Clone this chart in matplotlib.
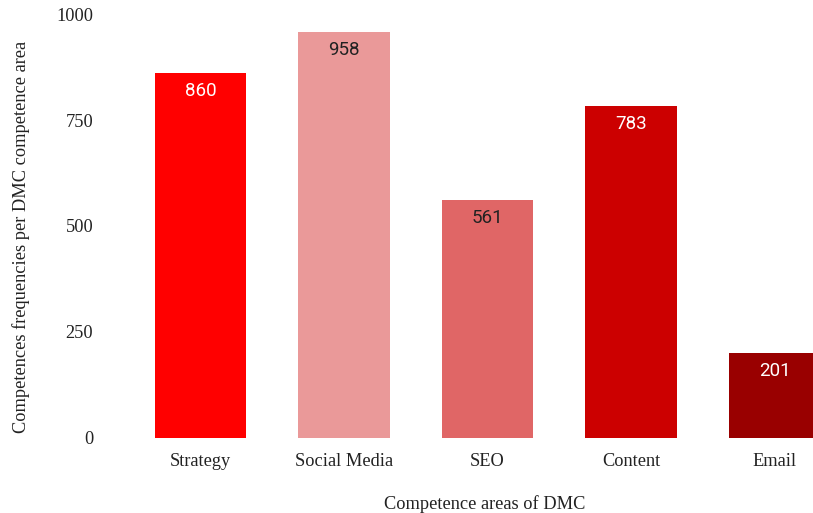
import matplotlib
matplotlib.use("Agg")
import matplotlib.pyplot as plt

categories = ["Strategy", "Social Media", "SEO", "Content", "Email"]
values = [860, 958, 561, 783, 201]
bar_colors = ["#FF0000", "#EA9999", "#E06666", "#CC0000", "#990000"]
label_colors = ["#FFFFFF", "#222222", "#222222", "#FFFFFF", "#FFFFFF"]
yticks = [0, 250, 500, 750, 1000]

fig = plt.figure(figsize=(8.13, 5.13), dpi=100)
ax = fig.add_axes([128.75 / 813, 75 / 513, 717.5 / 813, 424 / 513])

x = list(range(len(categories)))
bars = ax.bar(x, values, width=0.64, color=bar_colors)
for b, v, c in zip(bars, values, label_colors):
    ax.annotate(str(v), (b.get_x() + b.get_width() / 2, v), xytext=(0, -13),
                textcoords="offset points", ha="center", va="center",
                color=c, fontsize=13.5, family="Roboto")

ax.set_xlim(-0.5, 4.5)
ax.set_ylim(0, 1000)
ax.set_yticks(yticks)
ax.set_xticks(x)
ax.set_xticklabels(categories, family="Liberation Serif", fontsize=13.2, color="#222222")
ax.set_yticklabels([str(t) for t in yticks], family="Liberation Serif", fontsize=13.2, color="#222222")
ax.tick_params(axis="both", length=0)
ax.tick_params(axis="y", pad=25.5)
ax.tick_params(axis="x", pad=10.5)
for s in ax.spines.values():
    s.set_visible(False)

fig.text(485 / 813, 1 - 504 / 513, "Competence areas of DMC", ha="center", va="center",
         family="Liberation Serif", fontsize=13.2, color="#222222")
fig.text(21 / 813, 1 - 237 / 513, "Competences frequencies per DMC competence area", ha="center",
         va="center", rotation=90, family="Liberation Serif", fontsize=13.2, color="#222222")

fig.savefig("out.png", dpi=100)
